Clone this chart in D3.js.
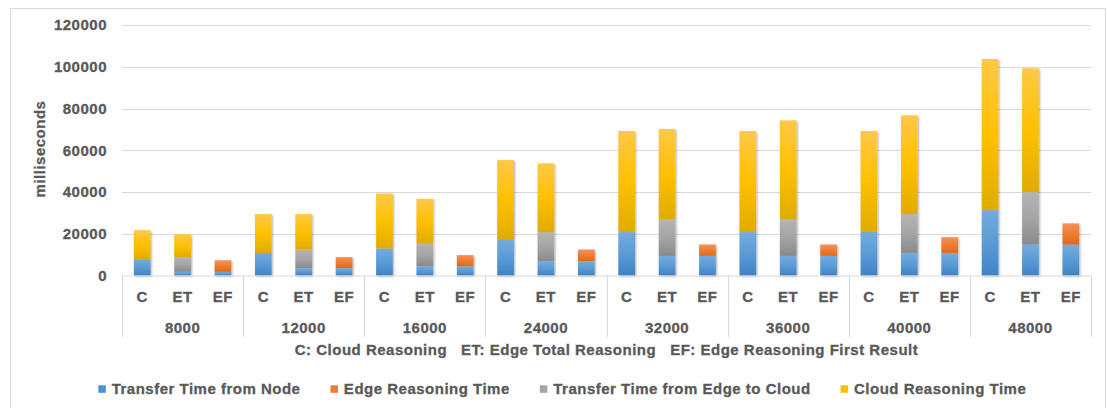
<!DOCTYPE html>
<html>
<head>
<meta charset="utf-8">
<script src="https://cdn.jsdelivr.net/npm/d3@7"></script>
<style>
  html, body { margin: 0; padding: 0; background: #ffffff; }
  svg text { font-family: "Liberation Sans", Arial, sans-serif; font-weight: bold; fill: #595959; stroke: #595959; stroke-width: 0.3px; letter-spacing: 0.5px; }
</style>
</head>
<body>
<svg id="chart" width="1107" height="408"></svg>
<script>
// Message sizes (group labels) and the three reasoning modes inside each group
const sizes = ["8000", "12000", "16000", "24000", "32000", "36000", "40000", "48000"];
const modes = ["C", "ET", "EF"];

// Each row: one message size, values for [C, ET, EF] in milliseconds
const transferFromNode = [
  [7800, 1750, 1750], [10850, 3500, 3500], [12950, 4450, 4450], [17400, 6850, 6850],
  [20800, 9400, 9400], [20800, 9400, 9400], [20900, 10850, 10850], [31300, 14850, 14850]
];
const edgeReasoning = [
  [0, 0, 5550], [0, 0, 5300], [0, 0, 5300], [0, 0, 5600],
  [0, 0, 5450], [0, 0, 5450], [0, 0, 7500], [0, 0, 10100]
];
const transferEdgeToCloud = [
  [0, 7050, 0], [0, 8950, 0], [0, 10900, 0], [0, 13900, 0],
  [0, 17600, 0], [0, 17600, 0], [0, 18550, 0], [0, 25100, 0]
];
const cloudReasoning = [
  [13900, 11000, 0], [18550, 16950, 0], [26350, 21400, 0], [37900, 32950, 0],
  [48400, 43150, 0], [48400, 47300, 0], [48300, 47300, 0], [72400, 59300, 0]
];

const yTicks = [0, 20000, 40000, 60000, 80000, 100000, 120000];
const seriesNames = ["Transfer Time from Node", "Edge Reasoning Time", "Transfer Time from Edge to Cloud", "Cloud Reasoning Time"];
const captionParts = ["C: Cloud Reasoning", "ET: Edge Total Reasoning", "EF: Edge Reasoning First Result"];

const seriesKeys = ["node", "edge", "e2c", "cloud"];
const seriesData = [transferFromNode, edgeReasoning, transferEdgeToCloud, cloudReasoning];

// gradient stops per series: top, middle, bottom
const gradients = {
  node:  ["#74abde", "#5b9bd5", "#3f83c6"],
  edge:  ["#f59158", "#ed7d31", "#e2671c"],
  e2c:   ["#b4b4b4", "#a5a5a5", "#8a8a8a"],
  cloud: ["#ffc848", "#ffc000", "#e0ac00"]
};
const legendColors = { node: "#4a90d4", edge: "#ed7d31", e2c: "#a5a5a5", cloud: "#ffc000" };

const svg = d3.select("#chart");
const defs = svg.append("defs");

seriesKeys.forEach(k => {
  const g = defs.append("linearGradient").attr("id", "grad-" + k)
    .attr("x1", 0).attr("y1", 0).attr("x2", 0).attr("y2", 1);
  g.append("stop").attr("offset", "0%").attr("stop-color", gradients[k][0]);
  g.append("stop").attr("offset", "50%").attr("stop-color", gradients[k][1]);
  g.append("stop").attr("offset", "100%").attr("stop-color", gradients[k][2]);
});

const shadow = defs.append("filter").attr("id", "barShadow")
  .attr("x", "-30%").attr("y", "-10%").attr("width", "160%").attr("height", "120%");
shadow.append("feGaussianBlur").attr("in", "SourceAlpha").attr("stdDeviation", 1.2).attr("result", "blur");
shadow.append("feOffset").attr("in", "blur").attr("dx", 0.6).attr("dy", 0.6).attr("result", "off");
shadow.append("feComponentTransfer").attr("in", "off").attr("result", "soft")
  .append("feFuncA").attr("type", "linear").attr("slope", 0.35);
const merge = shadow.append("feMerge");
merge.append("feMergeNode").attr("in", "soft");
merge.append("feMergeNode").attr("in", "SourceGraphic");

// chart frame
svg.append("rect").attr("x", 10.5).attr("y", 8.5).attr("width", 1095).attr("height", 430)
  .attr("fill", "none").attr("stroke", "#d9d9d9").attr("stroke-width", 1);

const plotLeft = 122, plotRight = 1091, plotTop = 25, plotBottom = 275.5;

const y = d3.scaleLinear().domain([0, 120000]).range([plotBottom, plotTop]);
const xGroup = d3.scaleBand().domain(sizes).range([plotLeft, plotRight]).padding(0);
const xMode = d3.scaleBand().domain(modes).range([0, xGroup.bandwidth()])
  .paddingInner(0.587).paddingOuter(0.2935);

// gridlines
svg.append("g").selectAll("line").data(yTicks.filter(t => t > 0)).join("line")
  .attr("x1", plotLeft).attr("x2", plotRight)
  .attr("y1", d => Math.round(y(d)) + 0.5).attr("y2", d => Math.round(y(d)) + 0.5)
  .attr("stroke", "#d9d9d9").attr("stroke-width", 1);

// y tick labels
svg.append("g").selectAll("text").data(yTicks).join("text")
  .attr("x", 107).attr("y", d => y(d)).attr("dy", "0.35em")
  .attr("text-anchor", "end").style("font-size", "15px")
  .text(d => d);

// y axis title
svg.append("text")
  .attr("transform", "translate(45,149) rotate(-90)")
  .attr("text-anchor", "middle").style("font-size", "15px")
  .text("milliseconds");

// stacked rows
const rows = [];
sizes.forEach((s, i) => {
  modes.forEach((m, j) => {
    const r = { size: s, mode: m };
    seriesKeys.forEach((k, si) => { r[k] = seriesData[si][i][j]; });
    rows.push(r);
  });
});
const stacked = d3.stack().keys(seriesKeys)(rows);

const barsG = svg.append("g").attr("filter", "url(#barShadow)");
stacked.forEach(layer => {
  barsG.append("g").selectAll("rect")
    .data(layer.filter(d => d[1] - d[0] > 0))
    .join("rect")
    .attr("x", d => xGroup(d.data.size) + xMode(d.data.mode))
    .attr("width", xMode.bandwidth())
    .attr("y", d => y(d[1]))
    .attr("height", d => y(d[0]) - y(d[1]))
    .attr("fill", "url(#grad-" + layer.key + ")");
});

// category axis: baseline and group separators
svg.append("line").attr("x1", plotLeft).attr("x2", plotRight)
  .attr("y1", plotBottom + 0.5).attr("y2", plotBottom + 0.5)
  .attr("stroke", "#d9d9d9").attr("stroke-width", 1);
const sepX = sizes.map(s => xGroup(s)).concat([xGroup.range()[1]]);
svg.append("g").selectAll("line").data(sepX).join("line")
  .attr("x1", d => Math.round(d) + 0.5).attr("x2", d => Math.round(d) + 0.5)
  .attr("y1", plotBottom).attr("y2", 337)
  .attr("stroke", "#d9d9d9").attr("stroke-width", 1);

// mode labels
svg.append("g").selectAll("text").data(rows).join("text")
  .attr("x", d => xGroup(d.size) + xMode(d.mode) + xMode.bandwidth() / 2)
  .attr("y", 297).attr("dy", "0.35em").attr("text-anchor", "middle")
  .style("font-size", "15px")
  .text(d => d.mode);

// size labels
svg.append("g").selectAll("text").data(sizes).join("text")
  .attr("x", d => xGroup(d) + xGroup.bandwidth() / 2)
  .attr("y", 328).attr("dy", "0.35em").attr("text-anchor", "middle")
  .style("font-size", "15px")
  .text(d => d);

// mode abbreviation caption
svg.append("text")
  .attr("x", (plotLeft + plotRight) / 2).attr("y", 350).attr("dy", "0.35em")
  .attr("text-anchor", "middle").style("font-size", "15px")
  .style("white-space", "pre").attr("xml:space", "preserve")
  .text(captionParts.join("   "));

// legend
const legend = svg.append("g").attr("transform", "translate(98.3,389)");
let lx = 0;
seriesKeys.forEach((k, i) => {
  const item = legend.append("g").attr("transform", `translate(${lx},0)`);
  item.append("rect").attr("x", 0).attr("y", -3.7).attr("width", 7.5).attr("height", 7.5)
    .attr("fill", legendColors[k]);
  const t = item.append("text").attr("x", 13.4).attr("y", 0).attr("dy", "0.35em")
    .style("font-size", "15px").text(seriesNames[i]);
  lx += 13.4 + t.node().getComputedTextLength() + 30;
});
</script>
</body>
</html>
